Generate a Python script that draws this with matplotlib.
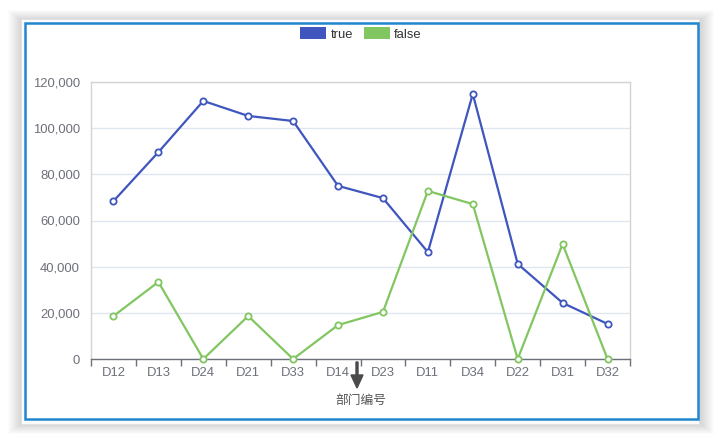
import matplotlib
matplotlib.use("Agg")
import matplotlib.pyplot as plt
from matplotlib.patches import Rectangle, FancyArrow

plt.rcParams['font.family'] = ['Liberation Sans', 'Noto Sans CJK SC']

# data
depts = ['D12', 'D13', 'D24', 'D21', 'D33', 'D14', 'D23', 'D11', 'D34', 'D22', 'D31', 'D32']
true_vals = [68400, 89600, 111800, 105300, 103100, 75000, 69700, 46300, 114800, 41200, 24300, 15200]
false_vals = [18600, 33400, 0, 18600, 0, 14700, 20400, 72800, 67100, 0, 49800, 0]
y_ticks = [0, 20000, 40000, 60000, 80000, 100000, 120000]

blue = '#3e56bd'
green = '#82c662'
text_col = '#6e7079'

W, H = 720, 445
fig = plt.figure(figsize=(7.2, 4.45), dpi=100)
fig.patch.set_facecolor('white')

def px(x, y, w, h):
    # pixel box (top-left origin) -> figure fraction
    return (x / W, 1 - (y + h) / H, w / W, h / H)

# soft shadow around the window
for i in range(16):
    x, y, w, h = px(24 - 16 + i, 22 - 12 + i * 0.75, 674 + 32 - 2 * i, 398 + 26 - 1.5 * i)
    fig.add_artist(Rectangle((x, y), w, h, transform=fig.transFigure,
                             facecolor='black', alpha=0.011, edgecolor='none', zorder=0))
# light grey page behind the window (only peeks out at top and bottom)
x, y, w, h = px(21, 19, 678, 405)
fig.add_artist(Rectangle((x, y), w, h, transform=fig.transFigure,
                         facecolor='#fbfbfb', edgecolor='#e0e0e0', lw=0.6, zorder=1))
# the window with its blue border
x, y, w, h = px(25, 23, 673, 396)
fig.add_artist(Rectangle((x, y), w, h, transform=fig.transFigure,
                         facecolor='white', edgecolor='#1f87d0', lw=1.8, zorder=2))

ax = fig.add_axes([91 / W, 1 - 359 / H, (630 - 91) / W, (359 - 82) / H], zorder=3)
ax.set_facecolor('none')

xs = list(range(len(depts)))
ax.plot(xs, true_vals, color=blue, lw=1.6, marker='o', ms=4.5, mfc='white',
        mec=blue, mew=1.3, zorder=4, label='true', clip_on=False)
ax.plot(xs, false_vals, color=green, lw=1.6, marker='o', ms=4.5, mfc='white',
        mec=green, mew=1.3, zorder=4, label='false', clip_on=False)

ax.set_xlim(-0.5, len(depts) - 0.5)
ax.set_ylim(0, 120000)
ax.set_yticks(y_ticks)
ax.set_yticklabels(['{:,}'.format(v) for v in y_ticks])
ax.set_xticks(xs)
ax.set_xticklabels(depts)
ax.set_xticks([i - 0.5 for i in range(len(depts) + 1)], minor=True)
ax.tick_params(axis='x', which='major', length=0, pad=6, labelsize=9.4, labelcolor=text_col)
ax.tick_params(axis='x', which='minor', length=5, width=1, color=text_col)
ax.tick_params(axis='y', length=0, pad=8, labelsize=9.4, labelcolor=text_col)

ax.grid(axis='y', color='#e0e6f1', lw=1)
ax.set_axisbelow(True)
for s in ['top', 'left', 'right']:
    ax.spines[s].set_color('#d4d4d4')
    ax.spines[s].set_linewidth(1)
ax.spines['bottom'].set_color(text_col)
ax.spines['bottom'].set_linewidth(1)

ax.set_xlabel('部门编号', fontsize=9.2, color='#555555', labelpad=11)

# legend at the top
leg = fig.legend(handles=[Rectangle((0, 0), 1, 1, fc=blue), Rectangle((0, 0), 1, 1, fc=green)],
                 labels=['true', 'false'], loc='center', bbox_to_anchor=(361 / W, 1 - 34 / H),
                 ncol=2, frameon=False, fontsize=9.4, handlelength=2.0, handleheight=1.0,
                 handletextpad=0.35, columnspacing=0.8, labelcolor='#333333')
leg.set_zorder(5)

# cursor arrow under the axis
fig.add_artist(FancyArrow(357 / W, 1 - 362 / H, 0, -26 / H, width=2 / W,
                          head_width=12 / W, head_length=13 / H,
                          length_includes_head=True, transform=fig.transFigure,
                          color='#4a4a4a', zorder=6))

fig.savefig('out.png', dpi=100)
